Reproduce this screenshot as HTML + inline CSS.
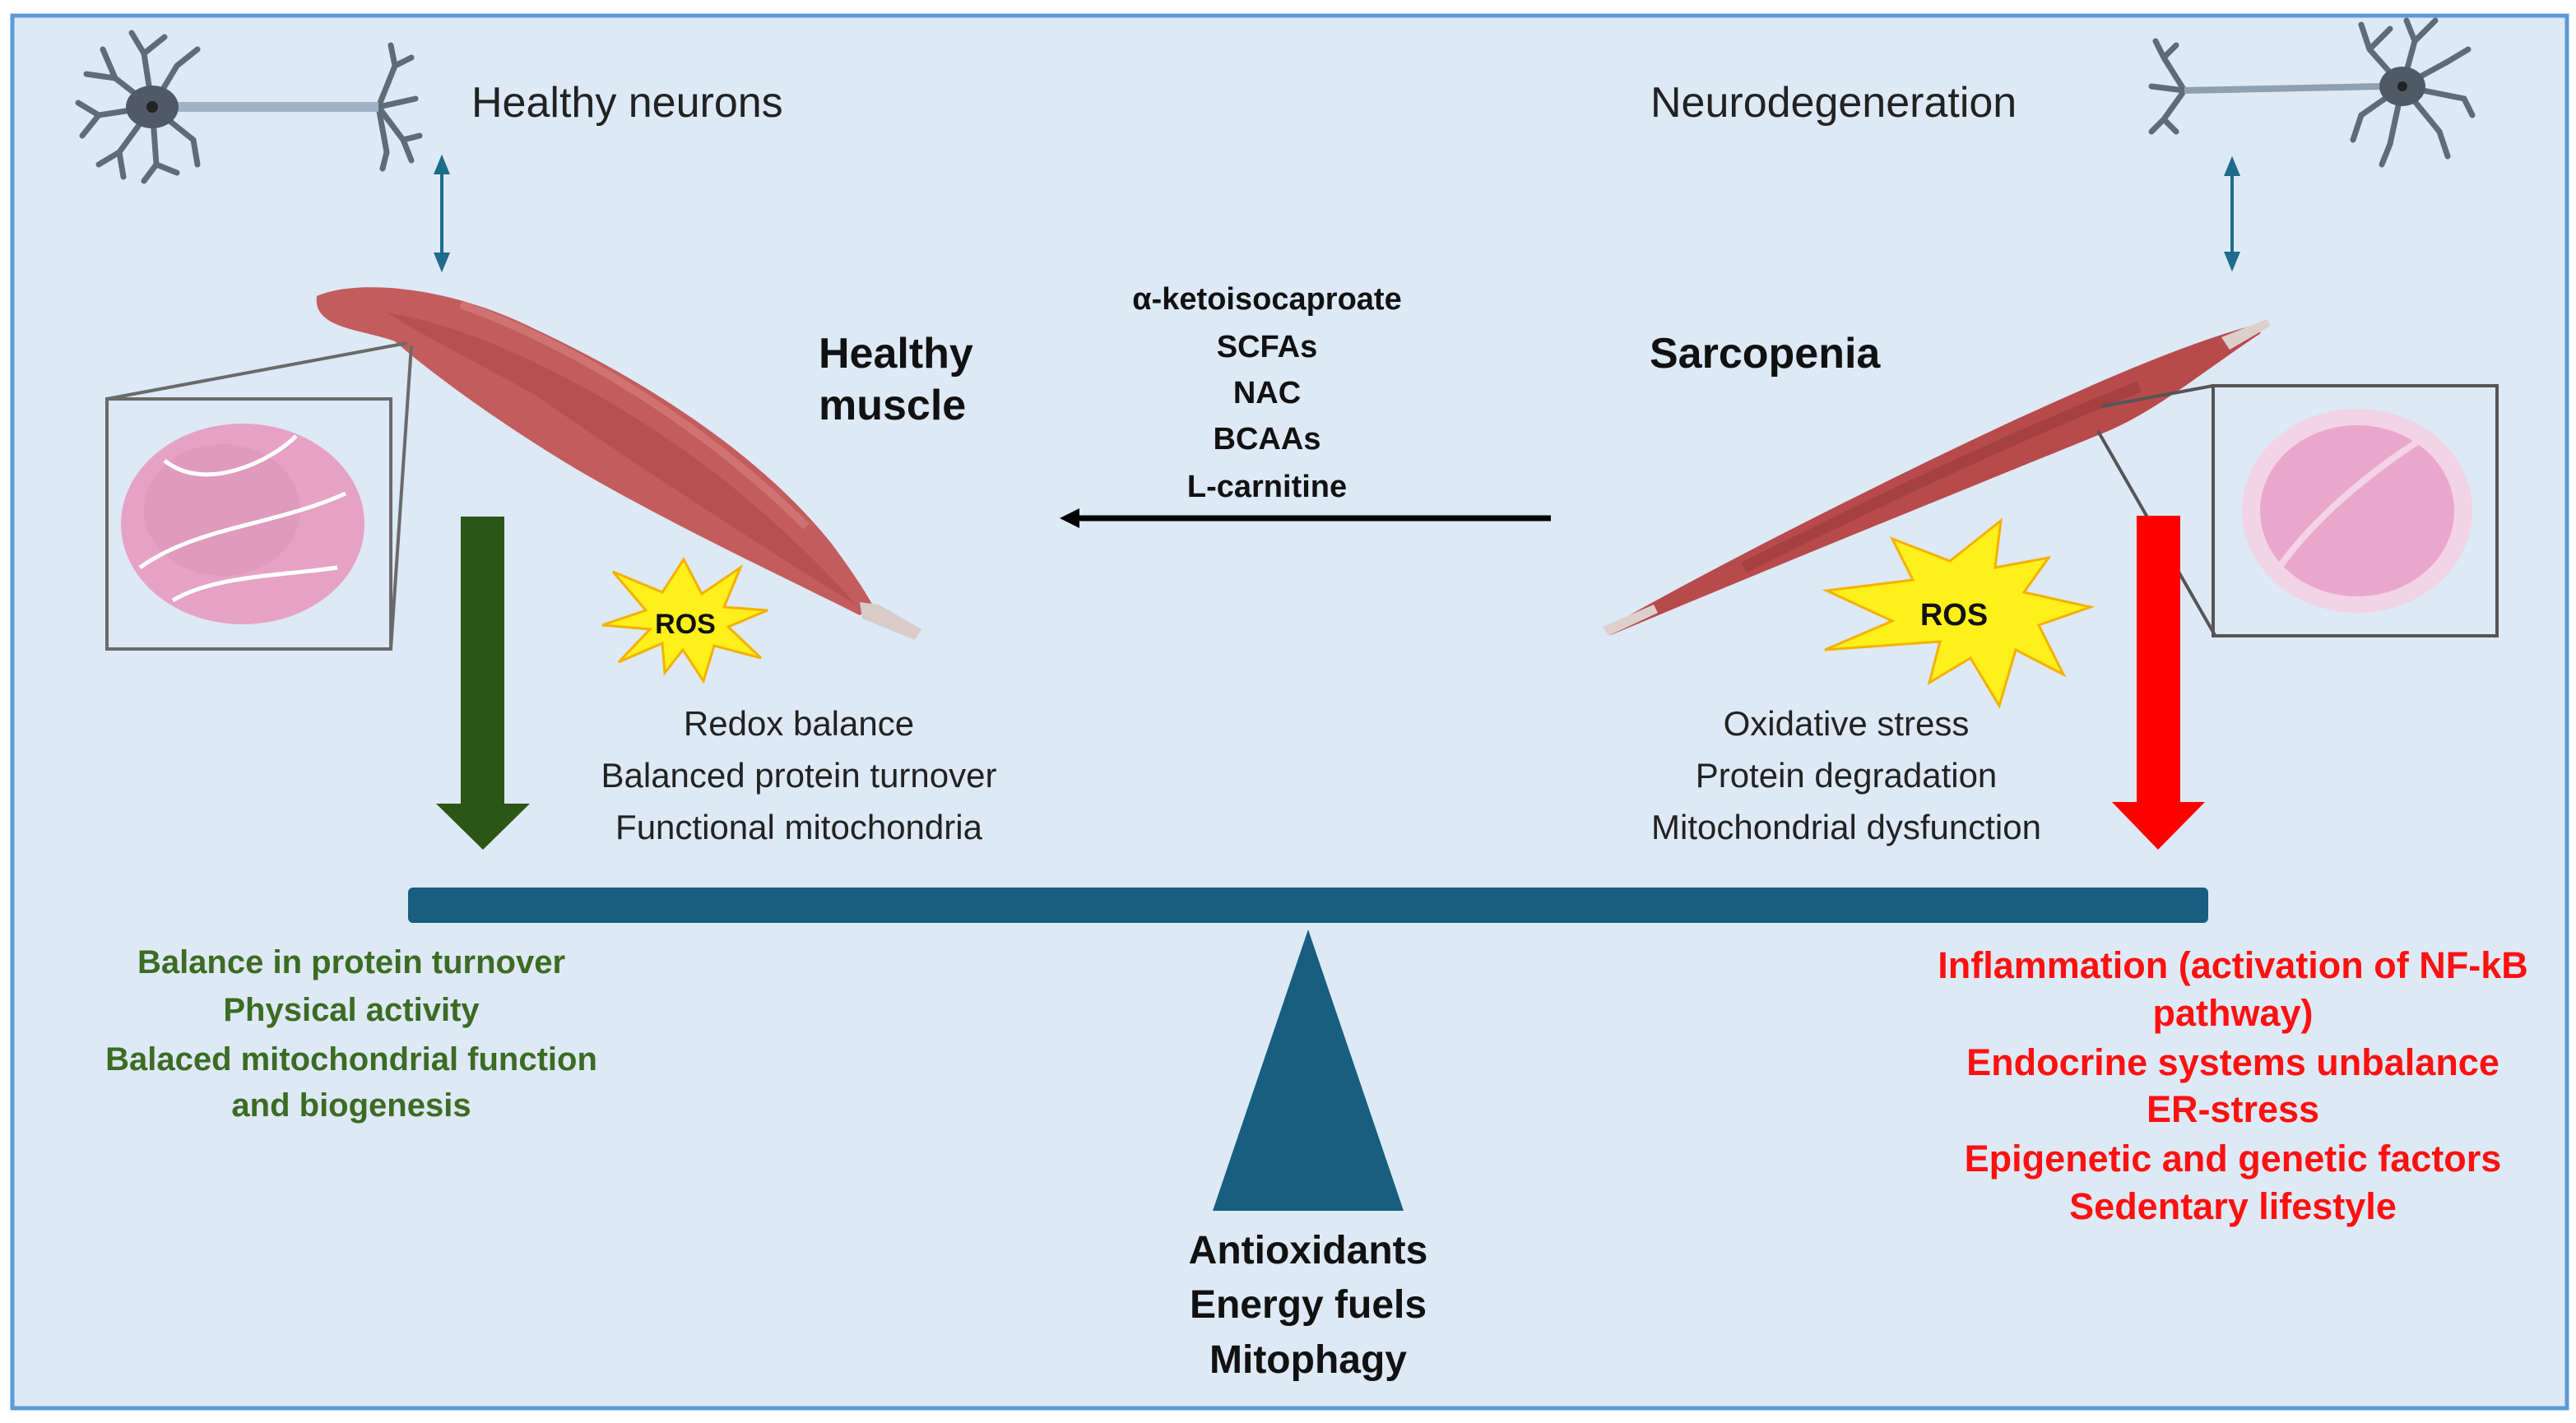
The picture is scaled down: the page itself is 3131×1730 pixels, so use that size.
<!DOCTYPE html>
<html><head><meta charset="utf-8"><style>
html,body{margin:0;padding:0;background:#fff;}
svg{display:block}
text{font-family:"Liberation Sans",sans-serif;}
</style></head><body>
<svg width="3131" height="1730" viewBox="0 0 3131 1730" xmlns="http://www.w3.org/2000/svg">
<rect x="0" y="0" width="3131" height="1730" fill="#ffffff"/>
<rect x="15" y="19" width="3105" height="1693" fill="#dde9f5" stroke="#5b9bd5" stroke-width="5"/>

<g stroke="#5f6b78" stroke-width="7" fill="none" stroke-linecap="round">
<path d="M185 130 L140 95 L125 60 M140 95 L105 90 M185 130 L175 65 L160 40 M175 65 L200 45 M185 130 L215 80 L240 60 M185 130 L120 140 L95 125 M120 140 L100 165 M185 130 L145 185 L120 200 M145 185 L150 215 M185 130 L190 200 L175 220 M190 200 L215 210 M185 130 L235 170 L240 200"/>
<path d="M460 130 L480 80 L475 55 M480 80 L500 70 M460 130 L505 120 M460 130 L490 170 L500 195 M490 170 L510 165 M460 130 L470 185 L465 205"/>
</g>
<line x1="210" y1="130" x2="460" y2="130" stroke="#9fb3c6" stroke-width="12"/>
<ellipse cx="185" cy="130" rx="32" ry="26" fill="#4f5a66"/>
<circle cx="185" cy="130" r="7" fill="#222"/>

<g stroke="#5f6b78" stroke-width="7" fill="none" stroke-linecap="round">
<path d="M2920 105 L2880 60 L2870 30 M2880 60 L2905 35 M2920 105 L2935 50 L2960 25 M2935 50 L2925 25 M2920 105 L2975 75 L3000 60 M2920 105 L2995 120 L3005 140 M2920 105 L2965 160 L2975 190 M2920 105 L2905 175 L2895 200 M2920 105 L2870 140 L2860 170"/>
<path d="M2655 110 L2630 70 L2620 50 M2630 70 L2645 55 M2655 110 L2615 105 M2655 110 L2630 145 L2615 160 M2630 145 L2645 160"/>
</g>
<line x1="2655" y1="110" x2="2895" y2="105" stroke="#8fa0b0" stroke-width="8"/>
<ellipse cx="2920" cy="105" rx="28" ry="24" fill="#4f5a66"/>
<circle cx="2920" cy="105" r="6" fill="#222"/>

<g stroke="#1e6b8c" stroke-width="4" fill="#1e6b8c">
<line x1="537" y1="205" x2="537" y2="315"/>
<polygon points="537,193 530,210 544,210"/><polygon points="537,326 530,309 544,309"/>
<line x1="2713" y1="207" x2="2713" y2="313"/>
<polygon points="2713,195 2706,212 2720,212"/><polygon points="2713,325 2706,308 2720,308"/>
</g>

<text x="573" y="142" font-size="52" fill="#222">Healthy neurons</text>
<text x="2006" y="142" font-size="52" fill="#222">Neurodegeneration</text>

<path d="M385 360 C430 340 540 345 650 400 C800 470 930 560 1010 660 C1040 700 1055 725 1062 738 L1045 748 C950 700 820 640 700 570 C600 510 520 450 480 415 C440 400 380 400 385 360 Z" fill="#c35c5c"/>
<path d="M470 380 C600 400 780 500 900 600 C960 650 1010 700 1040 735 C950 680 780 570 650 480 C560 430 500 400 470 380 Z" fill="#ad4a4c" opacity="0.6"/>
<path d="M560 370 C700 420 860 520 980 640" stroke="#d98080" stroke-width="10" fill="none" opacity="0.6"/>
<path d="M1045 732 L1068 735 L1120 765 L1112 778 L1048 752 Z" fill="#d8cbc8"/>

<rect x="130" y="485" width="345" height="304" fill="none" stroke="#6a6a6a" stroke-width="4"/>
<line x1="130" y1="485" x2="495" y2="417" stroke="#6a6a6a" stroke-width="4"/>
<line x1="475" y1="789" x2="500" y2="420" stroke="#6a6a6a" stroke-width="4"/>
<ellipse cx="295" cy="637" rx="148" ry="122" fill="#e6a2c4"/>
<ellipse cx="270" cy="620" rx="95" ry="80" fill="#dc94b9" opacity="0.6"/>
<path d="M200 560 C250 600 330 560 360 530 M170 690 C240 640 330 640 420 600 M210 730 C260 700 340 700 410 690" stroke="#fff" stroke-width="5" fill="none"/>

<path d="M1950 765 C2100 680 2300 580 2450 510 C2560 460 2650 420 2740 395 L2748 405 C2680 450 2620 500 2560 525 C2450 570 2250 650 1958 772 Z" fill="#b84a4b"/>
<path d="M2120 690 C2300 600 2450 530 2600 470" stroke="#963a3c" stroke-width="14" fill="none" opacity="0.6"/>
<path d="M1948 762 L2010 735 L2015 745 L1955 773 Z" fill="#ddd0cc"/>
<path d="M2700 410 L2755 388 L2760 396 L2710 425 Z" fill="#ddd0cc"/>

<rect x="2690" y="469" width="345" height="304" fill="none" stroke="#555" stroke-width="4"/>
<line x1="2555" y1="494" x2="2690" y2="469" stroke="#555" stroke-width="4"/>
<line x1="2550" y1="524" x2="2692" y2="772" stroke="#555" stroke-width="4"/>
<ellipse cx="2865" cy="621" rx="140" ry="124" fill="#f3d3e6"/>
<ellipse cx="2865" cy="621" rx="118" ry="104" fill="#e9a8cb"/>
<path d="M2770 690 C2820 620 2900 560 2950 530" stroke="#f3d3e6" stroke-width="8" fill="none"/>

<g font-size="38" font-weight="bold" fill="#111" text-anchor="middle">
<text x="1540" y="376">α-ketoisocaproate</text>
<text x="1540" y="434">SCFAs</text>
<text x="1540" y="490">NAC</text>
<text x="1540" y="546">BCAAs</text>
<text x="1540" y="604">L-carnitine</text>
</g>
<line x1="1885" y1="630" x2="1305" y2="630" stroke="#000" stroke-width="7"/>
<polygon points="1288,630 1312,618 1312,642" fill="#000"/>

<text x="995" y="447" font-size="52" font-weight="bold" fill="#111">Healthy</text>
<text x="995" y="510" font-size="52" font-weight="bold" fill="#111">muscle</text>
<text x="2005" y="447" font-size="52" font-weight="bold" fill="#111">Sarcopenia</text>

<polygon points="831,680 853,722 900,690 880,738 933,742 885,762 925,800 868,785 855,828 830,790 808,818 805,782 752,805 790,765 732,760 785,742 745,695 805,720" fill="#ffef1a" stroke="#f5b100" stroke-width="3"/>
<text x="833" y="770" font-size="34" font-weight="bold" fill="#111" text-anchor="middle">ROS</text>
<polygon points="2432,633 2425,690 2490,678 2460,720 2541,738 2478,760 2508,820 2450,790 2430,858 2395,800 2345,830 2358,780 2218,790 2300,755 2220,718 2325,705 2300,655 2370,682" fill="#ffef1a" stroke="#f5b100" stroke-width="3"/>
<text x="2375" y="760" font-size="38" font-weight="bold" fill="#111" text-anchor="middle">ROS</text>

<rect x="560" y="628" width="53" height="350" fill="#2c5616"/>
<polygon points="530,977 644,977 587,1033" fill="#2c5616"/>
<rect x="2597" y="627" width="53" height="350" fill="#ff0000"/>
<polygon points="2567,975 2680,975 2623,1033" fill="#ff0000"/>

<g font-size="42" fill="#222" text-anchor="middle">
<text x="971" y="894">Redox balance</text>
<text x="971" y="957">Balanced protein turnover</text>
<text x="971" y="1020">Functional mitochondria</text>
<text x="2244" y="894">Oxidative stress</text>
<text x="2244" y="957">Protein degradation</text>
<text x="2244" y="1020">Mitochondrial dysfunction</text>
</g>

<rect x="496" y="1079" width="2188" height="43" rx="6" fill="#175e80"/>
<polygon points="1590,1130 1474,1472 1706,1472" fill="#175e80"/>

<g font-size="48" font-weight="bold" fill="#111" text-anchor="middle">
<text x="1590" y="1536">Antioxidants</text>
<text x="1590" y="1602">Energy fuels</text>
<text x="1590" y="1669">Mitophagy</text>
</g>

<g font-size="40" font-weight="bold" fill="#3c6b23" text-anchor="middle">
<text x="427" y="1183">Balance in protein turnover</text>
<text x="427" y="1241">Physical activity</text>
<text x="427" y="1301">Balaced mitochondrial function</text>
<text x="427" y="1357">and biogenesis</text>
</g>
<g font-size="45" font-weight="bold" fill="#ff1010" text-anchor="middle">
<text x="2714" y="1189">Inflammation (activation of NF-kB</text>
<text x="2714" y="1247">pathway)</text>
<text x="2714" y="1307">Endocrine systems unbalance</text>
<text x="2714" y="1364">ER-stress</text>
<text x="2714" y="1424">Epigenetic and genetic factors</text>
<text x="2714" y="1482">Sedentary lifestyle</text>
</g>
</svg>
</body></html>
